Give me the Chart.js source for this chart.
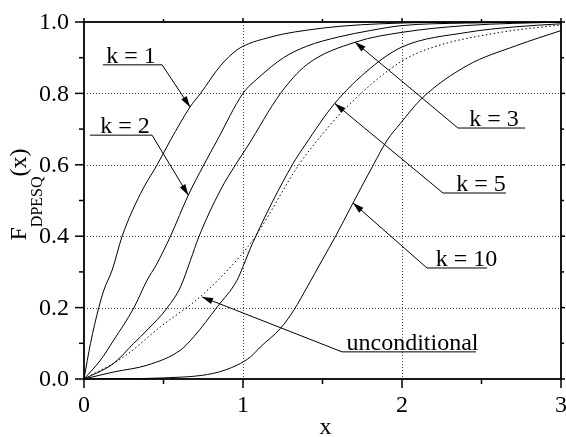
<!DOCTYPE html>
<html>
<head>
<meta charset="utf-8">
<script src="https://cdn.jsdelivr.net/npm/chart.js@4/dist/chart.umd.min.js"></script>
<style>
  html, body { margin: 0; padding: 0; background: #fff; }
</style>
</head>
<body>
<canvas id="chart" width="566" height="437"></canvas>
<script>
/* ── data ──────────────────────────────────── */
const K1_X  = [0, 0.041, 0.093, 0.125, 0.177, 0.24, 0.355, 0.46, 0.544, 0.667, 0.733, 0.859, 0.963, 1.035, 1.15, 1.25, 1.40, 1.61, 1.865, 2.2, 2.6, 3.0];
const K1_Y  = [0, 0.10, 0.20, 0.249, 0.305, 0.40, 0.519, 0.60, 0.669, 0.762, 0.80, 0.878, 0.922, 0.939, 0.955, 0.966, 0.977, 0.988, 0.995, 0.999, 1.0, 1.0];

const K2_X  = [0, 0.104, 0.187, 0.313, 0.397, 0.455, 0.544, 0.656, 0.754, 0.838, 1.0, 1.1, 1.255, 1.40, 1.6, 1.8, 2.0, 2.4, 3.0];
const K2_Y  = [0, 0.053, 0.109, 0.199, 0.277, 0.32, 0.40, 0.515, 0.60, 0.669, 0.80, 0.845, 0.9, 0.932, 0.958, 0.976, 0.99, 0.997, 1.0];

const K3_X  = [0, 0.187, 0.313, 0.397, 0.523, 0.607, 0.67, 0.722, 0.858, 0.953, 1.026, 1.236, 1.4, 1.71, 2.0, 2.4, 3.0];
const K3_Y  = [0, 0.044, 0.10, 0.137, 0.199, 0.258, 0.333, 0.398, 0.529, 0.60, 0.65, 0.80, 0.88, 0.944, 0.971, 0.99, 1.0];

const K5_X  = [0, 0.19, 0.4, 0.607, 0.69, 0.838, 0.963, 1.0, 1.06, 1.31, 1.39, 1.577, 1.8, 2.0, 2.41, 2.7, 3.0];
const K5_Y  = [0, 0.02, 0.039, 0.081, 0.118, 0.202, 0.277, 0.315, 0.38, 0.60, 0.655, 0.772, 0.87, 0.93, 0.971, 0.986, 0.995];

const K10_X = [0, 0.25, 0.5, 0.816, 0.963, 1.047, 1.11, 1.236, 1.32, 1.404, 1.498, 1.58, 1.692, 1.82, 1.907, 1.99, 2.127, 2.41, 2.72, 3.0];
const K10_Y = [0, 0.001, 0.003, 0.016, 0.039, 0.062, 0.09, 0.142, 0.193, 0.258, 0.333, 0.398, 0.493, 0.60, 0.669, 0.716, 0.787, 0.878, 0.934, 0.976];

const UNC_X = [0, 0.25, 0.48, 0.743, 0.984, 1.079, 1.351, 1.498, 1.63, 1.99, 2.2, 2.62, 3.0];
const UNC_Y = [0, 0.062, 0.146, 0.235, 0.345, 0.40, 0.60, 0.685, 0.752, 0.888, 0.93, 0.971, 0.992];

const X_MAJOR = [0, 1, 2, 3];
const X_MINOR = [0.5, 1.5, 2.5];
const Y_MAJOR = [0, 0.2, 0.4, 0.6, 0.8, 1.0];
const Y_MINOR = [0.1, 0.3, 0.5, 0.7, 0.9];
const X_LABELS = ['0', '1', '2', '3'];
const Y_LABELS = ['0.0', '0.2', '0.4', '0.6', '0.8', '1.0'];
const X_GRID  = [1, 2];
const Y_GRID  = [0.2, 0.4, 0.6, 0.8];

// callout labels: text, arrow tip, underline ends + label centre (data units)
const NOTE_TEXT  = ['k = 1', 'k = 2', 'k = 3', 'k = 5', 'k = 10', 'unconditional'];
const NOTE_TIP   = [[0.667, 0.762], [0.656, 0.515], [1.704, 0.944], [1.577, 0.772], [1.692, 0.493], [0.742, 0.230]];
const NOTE_LINE  = [[0.119, 0.491, 0.880], [0.038, 0.428, 0.683], [2.352, 2.774, 0.703], [2.258, 2.654, 0.521], [2.157, 2.535, 0.311], [1.623, 2.465, 0.076]];
const NOTE_TEXTX = [0.296, 0.258, 2.579, 2.497, 2.406, 2.066];
const NOTE_FROM  = ['right', 'right', 'left', 'left', 'left', 'left'];

const SERIF = '"Liberation Serif", "Times New Roman", serif';
const FONT  = `24px ${SERIF}`;

const pts = (xs, ys) => xs.map((x, i) => ({ x, y: ys[i] }));

function seg(ctx, x1, y1, x2, y2) {
  ctx.beginPath(); ctx.moveTo(x1, y1); ctx.lineTo(x2, y2); ctx.stroke();
}

function arrow(ctx, x1, y1, x2, y2) {
  seg(ctx, x1, y1, x2, y2);
  const ang = Math.atan2(y2 - y1, x2 - x1), len = 11, hw = 3.2;
  ctx.beginPath();
  ctx.moveTo(x2, y2);
  ctx.lineTo(x2 - len * Math.cos(ang) + hw * Math.sin(ang), y2 - len * Math.sin(ang) - hw * Math.cos(ang));
  ctx.lineTo(x2 - len * Math.cos(ang) - hw * Math.sin(ang), y2 - len * Math.sin(ang) + hw * Math.cos(ang));
  ctx.closePath(); ctx.fill();
}

/* ── grid, frame, ticks, callouts, axis titles ── */
const decor = {
  id: 'decor',
  beforeDatasetsDraw(chart) {
    const { ctx, chartArea: a, scales: { x, y } } = chart;
    ctx.save();
    ctx.strokeStyle = '#444';
    ctx.lineWidth = 1;
    ctx.setLineDash([1, 2]);
    X_GRID.forEach(v => { const p = Math.round(x.getPixelForValue(v)) + 0.5; seg(ctx, p, a.top, p, a.bottom); });
    Y_GRID.forEach(v => { const p = Math.round(y.getPixelForValue(v)) + 0.5; seg(ctx, a.left, p, a.right, p); });
    ctx.restore();
  },
  afterDatasetsDraw(chart) {
    const { ctx, chartArea: a, scales: { x, y } } = chart;
    ctx.save();
    ctx.strokeStyle = '#000';
    ctx.fillStyle = '#000';

    // frame
    ctx.lineWidth = 1.8;
    ctx.strokeRect(a.left, a.top, a.right - a.left, a.bottom - a.top);

    // ticks
    ctx.lineWidth = 1.5;
    X_MAJOR.forEach(v => { const p = x.getPixelForValue(v); seg(ctx, p, a.bottom, p, a.bottom + 9); seg(ctx, p, a.top, p, a.top - 4); });
    X_MINOR.forEach(v => { const p = x.getPixelForValue(v); seg(ctx, p, a.bottom, p, a.bottom + 5); seg(ctx, p, a.top, p, a.top - 3); });
    Y_MAJOR.forEach(v => { const p = y.getPixelForValue(v); seg(ctx, a.left, p, a.left - 9, p); seg(ctx, a.right, p, a.right + 4, p); });
    Y_MINOR.forEach(v => { const p = y.getPixelForValue(v); seg(ctx, a.left, p, a.left - 5, p); seg(ctx, a.right, p, a.right + 3, p); });

    // tick labels
    ctx.font = FONT;
    ctx.textAlign = 'right';
    ctx.textBaseline = 'middle';
    Y_MAJOR.forEach((v, i) => ctx.fillText(Y_LABELS[i], a.left - 15, y.getPixelForValue(v) + 1));
    ctx.textAlign = 'center';
    ctx.textBaseline = 'alphabetic';
    X_MAJOR.forEach((v, i) => ctx.fillText(X_LABELS[i], x.getPixelForValue(v), a.bottom + 33));

    // callouts
    ctx.lineWidth = 1;
    NOTE_TEXT.forEach((t, i) => {
      const [x1, x2, ly] = NOTE_LINE[i];
      const px1 = x.getPixelForValue(x1), px2 = x.getPixelForValue(x2), py = y.getPixelForValue(ly);
      seg(ctx, px1, py, px2, py);
      const sx = NOTE_FROM[i] === 'right' ? px2 : px1;
      arrow(ctx, sx, py, x.getPixelForValue(NOTE_TIP[i][0]), y.getPixelForValue(NOTE_TIP[i][1]));
      ctx.fillText(t, x.getPixelForValue(NOTE_TEXTX[i]), py - 2);
    });

    // x title
    ctx.fillText('x', (a.left + a.right) / 2 + 3, 434);

    // y title: F_DPESQ(x), rotated
    ctx.translate(26, (a.top + a.bottom) / 2 - 6);
    ctx.rotate(-Math.PI / 2);
    ctx.textAlign = 'left';
    const small = `16px ${SERIF}`;
    ctx.font = FONT;  const wF = ctx.measureText('F').width, wX = ctx.measureText('(x)').width;
    ctx.font = small; const wS = ctx.measureText('DPESQ').width;
    let cx = -(wF + wS + wX) / 2;
    ctx.font = FONT;  ctx.fillText('F', cx, 0); cx += wF;
    ctx.font = small; ctx.fillText('DPESQ', cx, 16); cx += wS;
    ctx.font = FONT;  ctx.fillText('(x)', cx, 0);
    ctx.restore();
  },
};

const line = (data, dash) => ({
  data,
  borderColor: '#000',
  borderWidth: 1,
  borderDash: dash || [],
  pointRadius: 0,
  fill: false,
  cubicInterpolationMode: 'monotone',
});

new Chart(document.getElementById('chart'), {
  type: 'line',
  data: {
    datasets: [
      line(pts(K1_X, K1_Y)),
      line(pts(K2_X, K2_Y)),
      line(pts(K3_X, K3_Y)),
      line(pts(K5_X, K5_Y)),
      line(pts(K10_X, K10_Y)),
      line(pts(UNC_X, UNC_Y), [1.5, 2.5]),
    ],
  },
  options: {
    responsive: false,
    animation: false,
    layout: { padding: { top: 22, right: 5, left: 0, bottom: 0 } },
    plugins: { legend: { display: false }, tooltip: { enabled: false } },
    scales: {
      x: {
        type: 'linear', min: 0, max: 3,
        grid: { display: false, drawTicks: false },
        border: { display: false },
        ticks: { display: false },
        afterFit(s) { s.height = 58; },
      },
      y: {
        type: 'linear', min: 0, max: 1,
        grid: { display: false, drawTicks: false },
        border: { display: false },
        ticks: { display: false },
        afterFit(s) { s.width = 84; },
      },
    },
  },
  plugins: [decor],
});
</script>
</body>
</html>
